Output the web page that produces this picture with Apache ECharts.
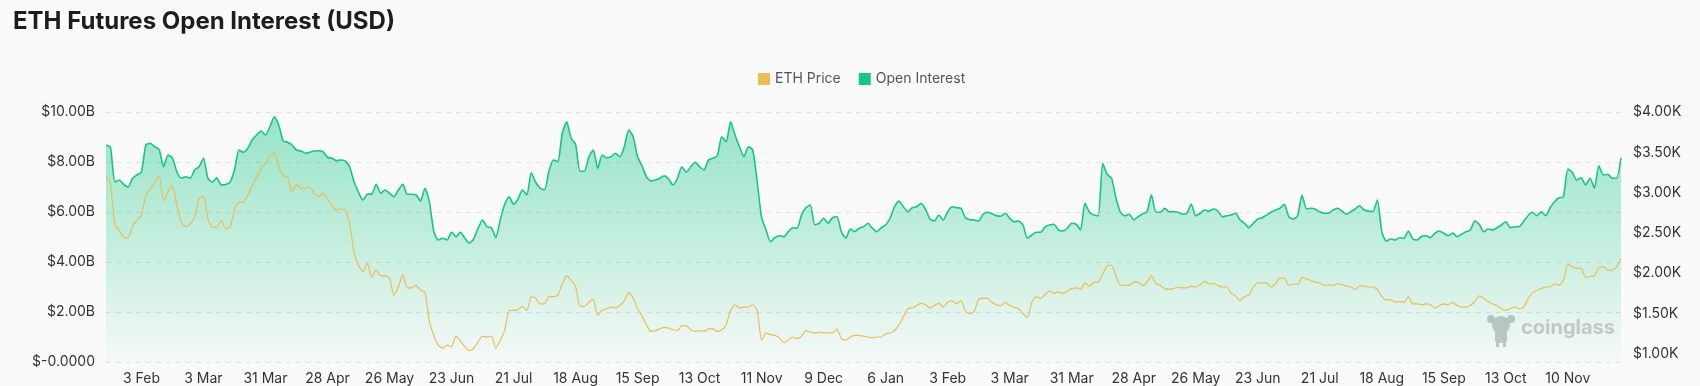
<!DOCTYPE html>
<html><head><meta charset="utf-8">
<script src="https://cdn.jsdelivr.net/npm/echarts@6/dist/echarts.min.js"></script>
<style>html,body{margin:0;padding:0;background:#fafafa}#c{width:1700px;height:386px}</style>
</head><body><div id="c"></div>
<script>
// ---- data ----
const startDate = '2022-01-18';   // first category
const stepDays = 2;               // one sample every 2 days
const missingDayIndex = 147;      // the source skips one day around 9 Nov 2022
const labelFirstIndex = 8;        // '3 Feb'
const labelEvery = 14;            // every 28 days

// Open interest, billions USD
const openInterestB = [
8.68,8.58,7.2,7.28,7.1,7.0,7.35,7.48,7.6,8.68,8.75,8.61,8.5,7.81,8.28,8.15,7.61,7.35,7.41,7.35,7.68,7.81,8.15,7.35,7.19,7.37,7.08,7.1,7.19,7.68,8.48,8.39,8.55,8.88,9.08,9.24,9.08,9.41,9.81,9.48,8.84,8.79,8.68,
8.48,8.44,8.35,8.39,8.44,8.45,8.41,8.19,8.15,8.05,8.08,8.04,7.81,7.21,6.79,6.48,6.71,6.72,7.11,6.75,6.88,6.75,6.61,6.88,7.11,6.71,6.71,6.68,6.44,6.95,6.41,5.21,4.88,4.95,4.88,5.19,5.01,5.19,4.95,4.75,4.92,5.35,5.68,5.41,
5.37,4.97,5.68,6.31,6.61,6.31,6.52,6.88,6.68,7.57,7.19,6.95,6.88,7.64,8.08,8.01,9.15,9.61,8.95,8.71,7.63,7.63,8.21,8.48,7.75,8.28,8.17,8.21,8.35,8.21,8.61,9.28,9.01,8.21,7.85,7.41,7.24,7.28,7.35,7.45,7.32,7.08,7.35,7.81,
7.59,7.81,7.99,7.81,7.68,8.08,8.15,8.25,9.01,8.81,9.61,9.08,8.61,8.21,8.61,8.48,7.21,5.77,5.28,4.81,4.97,5.05,5.01,5.21,5.37,5.35,5.88,6.17,6.28,5.48,5.55,5.75,5.55,5.77,5.81,5.21,4.95,5.32,5.21,5.35,5.41,5.55,5.35,5.21,
5.37,5.48,5.75,6.21,6.44,6.21,6.01,6.17,6.21,6.35,6.11,5.72,5.64,5.88,5.68,6.01,6.21,6.17,6.15,5.77,5.69,5.68,5.64,5.91,5.99,5.93,5.85,5.83,5.95,5.75,5.61,5.64,5.48,4.95,5.08,5.19,5.19,5.41,5.48,5.51,5.28,5.24,5.35,5.55,
5.51,5.28,6.35,5.99,5.88,5.85,7.95,7.51,7.35,6.55,5.99,5.85,5.91,5.68,5.81,5.93,6.01,6.68,5.99,5.99,6.15,6.01,6.01,5.99,5.91,5.95,6.31,5.85,5.95,6.08,6.04,6.12,6.04,5.81,5.85,5.88,5.95,5.68,5.55,5.37,5.55,5.72,5.77,5.88,
5.99,6.08,6.15,6.31,5.81,5.72,5.85,6.68,6.12,6.15,6.11,6.01,5.95,5.95,6.08,6.15,6.04,5.91,6.01,6.12,6.25,6.08,6.04,6.01,6.48,5.21,4.84,4.92,4.88,4.97,4.95,5.24,4.92,4.88,5.03,5.05,4.97,5.15,5.24,5.15,5.05,5.16,5.01,5.11,
5.21,5.28,5.64,5.51,5.21,5.32,5.28,5.37,5.48,5.61,5.37,5.41,5.41,5.61,5.85,5.99,5.85,6.01,5.85,6.17,6.41,6.57,6.61,7.72,7.59,7.28,7.37,7.08,7.35,6.95,7.85,7.48,7.51,7.35,7.35,8.17
];

// ETH price, thousands USD
const ethPriceK = [
3.21,3.11,2.6,2.53,2.45,2.44,2.59,2.66,2.72,2.97,3.05,3.12,3.21,2.9,3.01,3.09,2.84,2.64,2.58,2.61,2.7,2.92,2.96,2.68,2.57,2.57,2.66,2.55,2.57,2.78,2.88,2.88,2.97,3.09,3.19,3.3,3.36,3.46,3.5,3.32,3.21,3.19,3.01,
3.10,3.05,3.06,3.07,2.99,2.95,2.99,2.92,2.84,2.78,2.80,2.78,2.61,2.26,2.10,2.02,2.12,1.95,2.04,1.97,1.97,1.94,1.73,1.83,1.98,1.82,1.82,1.85,1.79,1.77,1.40,1.23,1.11,1.07,1.11,1.09,1.22,1.16,1.09,1.04,1.07,1.15,1.22,1.21,
1.22,1.07,1.17,1.29,1.54,1.54,1.55,1.59,1.54,1.71,1.69,1.62,1.62,1.71,1.71,1.73,1.87,1.97,1.91,1.84,1.59,1.59,1.64,1.68,1.48,1.54,1.56,1.58,1.57,1.60,1.66,1.76,1.69,1.56,1.47,1.36,1.28,1.29,1.31,1.33,1.32,1.30,1.29,1.35,
1.35,1.30,1.28,1.29,1.28,1.31,1.31,1.28,1.30,1.36,1.54,1.61,1.57,1.58,1.58,1.61,1.54,1.17,1.26,1.24,1.23,1.20,1.14,1.17,1.21,1.19,1.22,1.29,1.27,1.26,1.27,1.26,1.26,1.26,1.31,1.19,1.17,1.21,1.23,1.23,1.22,1.21,1.20,1.21,
1.21,1.25,1.26,1.29,1.36,1.46,1.56,1.57,1.60,1.63,1.61,1.57,1.60,1.63,1.58,1.64,1.66,1.62,1.66,1.53,1.50,1.53,1.68,1.69,1.69,1.64,1.61,1.60,1.64,1.60,1.58,1.56,1.50,1.45,1.64,1.71,1.69,1.74,1.78,1.75,1.77,1.75,1.78,1.81,
1.82,1.80,1.88,1.84,1.89,1.89,1.99,2.09,2.10,1.97,1.85,1.85,1.85,1.89,1.89,1.85,1.89,1.97,1.87,1.85,1.81,1.80,1.81,1.83,1.82,1.82,1.84,1.83,1.86,1.90,1.87,1.87,1.85,1.83,1.83,1.75,1.72,1.66,1.71,1.73,1.83,1.88,1.88,1.88,
1.83,1.87,1.94,1.94,1.85,1.87,1.86,1.95,1.93,1.91,1.89,1.88,1.85,1.86,1.85,1.87,1.86,1.84,1.83,1.80,1.84,1.84,1.83,1.83,1.80,1.71,1.67,1.67,1.64,1.65,1.64,1.71,1.62,1.62,1.61,1.62,1.61,1.57,1.60,1.62,1.61,1.64,1.60,1.58,
1.58,1.60,1.65,1.72,1.69,1.65,1.62,1.60,1.56,1.54,1.56,1.58,1.56,1.58,1.68,1.76,1.79,1.81,1.83,1.83,1.87,1.85,1.91,2.11,2.08,2.06,2.06,1.95,1.96,1.97,2.07,2.08,2.04,2.04,2.08,2.19
];

const leftTicks = [0, 2, 4, 6, 8, 10];          // $B
const rightTicks = [1, 1.5, 2, 2.5, 3, 3.5, 4];  // $K
const rightMin = 0.9, rightMax = 4;

// ---- categories (dates) ----
const months = ['Jan','Feb','Mar','Apr','May','Jun','Jul','Aug','Sep','Oct','Nov','Dec'];
const t0 = Date.parse(startDate + 'T00:00:00Z');
const categories = openInterestB.map((_, i) => {
  const d = new Date(t0 + (i * stepDays + (i >= missingDayIndex ? 1 : 0)) * 86400000);
  return d.getUTCDate() + ' ' + months[d.getUTCMonth()];
});

const FONT = 'Inter, "Noto Sans", sans-serif';
const GREEN = '#16C784', YELLOW = '#EBBE55';

const chart = echarts.init(document.getElementById('c'), null, {renderer: 'canvas'});
chart.setOption({
  backgroundColor: '#fafafa',
  animation: false,
  title: {
    text: 'ETH Futures Open Interest (USD)', left: 8, top: 5,
    textStyle: {fontFamily: FONT, fontSize: 24, fontWeight: 'bold', color: '#1d1d1f'}
  },
  legend: {
    data: ['ETH Price', 'Open Interest'], left: 753, top: 67,
    icon: 'rect', itemWidth: 12, itemHeight: 12, itemGap: 18,
    textStyle: {fontFamily: FONT, fontSize: 14, color: '#555'}
  },
  grid: {left: 106, right: 79, top: 112, bottom: 24},
  xAxis: {
    type: 'category', data: categories, boundaryGap: false,
    axisLine: {show: false}, axisTick: {show: false},
    axisLabel: {
      interval: (idx) => idx >= labelFirstIndex && (idx - labelFirstIndex) % labelEvery === 0,
      fontFamily: FONT, fontSize: 14, color: '#333', margin: 10
    },
    splitLine: {show: false}
  },
  yAxis: [{
    type: 'value', min: leftTicks[0], max: leftTicks[leftTicks.length - 1], interval: leftTicks[1] - leftTicks[0],
    axisLine: {show: false}, axisTick: {show: false},
    axisLabel: {
      fontFamily: FONT, fontSize: 14, color: '#333', margin: 11,
      formatter: (v) => v === 0 ? '$-0.0000' : '$' + v.toFixed(2) + 'B'
    },
    splitLine: {lineStyle: {color: '#e3e3e3', type: [5, 5], width: 1}}
  }, {
    type: 'value', min: rightMin, max: rightMax, position: 'right',
    axisLine: {show: false}, axisTick: {show: false},
    axisLabel: {
      customValues: rightTicks,
      fontFamily: FONT, fontSize: 14, color: '#333', margin: 12,
      formatter: (v) => '$' + v.toFixed(2) + 'K'
    },
    splitLine: {show: false}
  }],
  series: [{
    name: 'Open Interest', type: 'line', yAxisIndex: 0, data: openInterestB,
    symbol: 'none', smooth: 0.2, z: 2,
    itemStyle: {color: GREEN},
    lineStyle: {color: GREEN, width: 1.6},
    areaStyle: {
      color: new echarts.graphic.LinearGradient(0, 0, 0, 1, [
        {offset: 0, color: 'rgba(22,199,132,0.62)'},
        {offset: 0.55, color: 'rgba(22,199,132,0.32)'},
        {offset: 1, color: 'rgba(22,199,132,0.03)'}
      ])
    }
  }, {
    name: 'ETH Price', type: 'line', yAxisIndex: 1, data: ethPriceK,
    symbol: 'none', smooth: 0.2, z: 3,
    itemStyle: {color: YELLOW},
    lineStyle: {color: YELLOW, width: 1.2}
  }],
  graphic: [{
    type: 'group', left: 1487, top: 315, silent: true, z: 10,
    children: [
      {type: 'circle', shape: {cx: 14, cy: 10, r: 9}, style: {fill: '#c6c6c6'}},
      {type: 'circle', shape: {cx: 4, cy: 4, r: 4}, style: {fill: '#c6c6c6'}},
      {type: 'circle', shape: {cx: 24, cy: 4, r: 4}, style: {fill: '#c6c6c6'}},
      {type: 'rect', shape: {x: 8, y: 16, width: 12, height: 12, r: 3}, style: {fill: '#c6c6c6'}},
      {type: 'rect', shape: {x: 9, y: 27, width: 3, height: 5}, style: {fill: '#c6c6c6'}},
      {type: 'rect', shape: {x: 16, y: 27, width: 3, height: 5}, style: {fill: '#c6c6c6'}}
    ]
  }, {
    type: 'text', left: 1521, top: 318, silent: true, z: 10,
    style: {text: 'coinglass', fill: '#c6c6c6', font: 'bold 20px ' + FONT}
  }]
});
</script>
</body></html>
